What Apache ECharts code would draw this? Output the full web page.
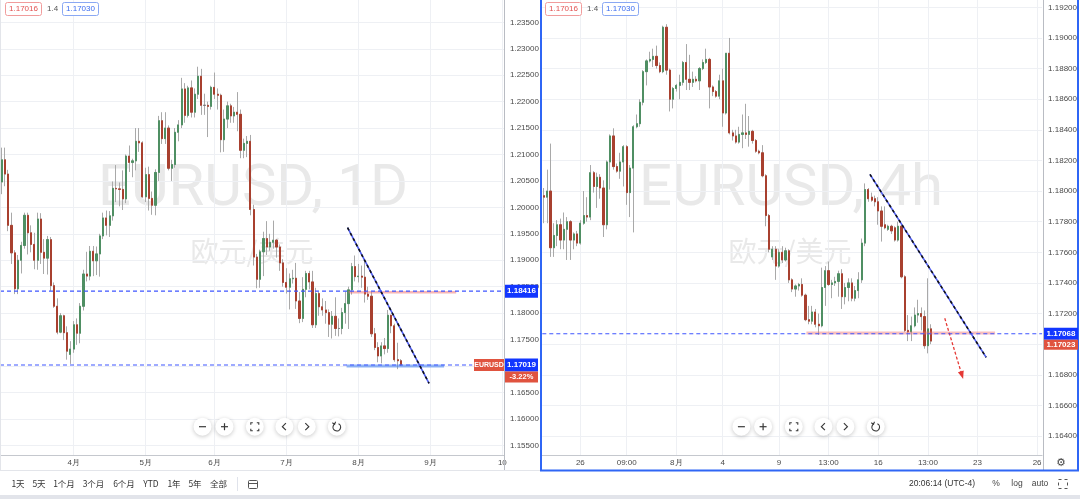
<!DOCTYPE html>
<html><head><meta charset="utf-8">
<script src="https://cdn.jsdelivr.net/npm/echarts@6/dist/echarts.min.js"></script>
<style>html,body{margin:0;padding:0;background:#fff}#c{width:1080px;height:499px}</style>
</head><body><div id="c"></div>
<script>
// ---------------- DATA ----------------
// Daily EURUSD, one row per trading day from 2021-03-02: [open, high, low, close]
const dailyStart = '2021-03-02', dailyEnd = '2021-10-01';
const dailyOHLC = [
[1.2048,1.2113,1.2025,1.2090],[1.2090,1.2113,1.2040,1.2063],[1.2063,1.2071,1.1955,1.1966],[1.1966,1.1990,1.1893,1.1914],
[1.1914,1.1919,1.1836,1.1846],[1.1846,1.1910,1.1836,1.1900],[1.1900,1.1935,1.1875,1.1928],[1.1928,1.1990,1.1922,1.1985],
[1.1985,1.1990,1.1911,1.1952],[1.1952,1.1966,1.1915,1.1930],[1.1930,1.1952,1.1883,1.1900],[1.1900,1.1990,1.1882,1.1978],
[1.1978,1.1989,1.1893,1.1915],[1.1915,1.1940,1.1874,1.1904],[1.1904,1.1946,1.1873,1.1939],[1.1939,1.1944,1.1842,1.1852],
[1.1852,1.1858,1.1810,1.1813],[1.1813,1.1828,1.1760,1.1764],[1.1764,1.1800,1.1762,1.1795],[1.1795,1.1797,1.1749,1.1763],
[1.1763,1.1775,1.1712,1.1728],[1.1722,1.1747,1.1704,1.1732],
[1.1732,1.1785,1.1725,1.1778],[1.1778,1.1790,1.1740,1.1762],[1.1762,1.1819,1.1743,1.1813],[1.1813,1.1882,1.1805,1.1874],
[1.1874,1.1916,1.1860,1.1870],[1.1870,1.1927,1.1862,1.1917],[1.1917,1.1927,1.1870,1.1899],[1.1899,1.1926,1.1872,1.1912],
[1.1912,1.1950,1.1869,1.1946],[1.1946,1.1990,1.1940,1.1980],[1.1980,1.1994,1.1947,1.1966],[1.1966,1.1993,1.1944,1.1984],
[1.1984,1.2049,1.1975,1.2036],[1.2036,1.2080,1.2010,1.2035],[1.2035,1.2047,1.2002,1.2034],[1.2034,1.2070,1.1995,1.2016],
[1.2016,1.2100,1.2008,1.2097],[1.2097,1.2117,1.2067,1.2085],[1.2085,1.2092,1.2057,1.2088],[1.2088,1.2150,1.2070,1.2125],
[1.2125,1.2150,1.2105,1.2122],[1.2122,1.2125,1.2018,1.2020],
[1.2020,1.2075,1.2010,1.2062],[1.2062,1.2077,1.1994,1.2017],[1.2017,1.2030,1.1986,1.2004],[1.2004,1.2072,1.1985,1.2066],
[1.2066,1.2173,1.2050,1.2164],[1.2164,1.2180,1.2120,1.2130],[1.2130,1.2180,1.2120,1.2150],[1.2150,1.2155,1.2070,1.2074],
[1.2074,1.2090,1.2050,1.2081],[1.2081,1.2150,1.2075,1.2142],[1.2142,1.2165,1.2125,1.2156],[1.2156,1.2245,1.2150,1.2224],
[1.2224,1.2235,1.2160,1.2174],[1.2174,1.2230,1.2170,1.2226],[1.2226,1.2240,1.2170,1.2180],[1.2180,1.2225,1.2170,1.2214],
[1.2214,1.2266,1.2205,1.2248],[1.2248,1.2262,1.2175,1.2193],[1.2193,1.2215,1.2175,1.2193],[1.2193,1.2200,1.2133,1.2191],
[1.2191,1.2230,1.2185,1.2227],
[1.2227,1.2255,1.2205,1.2214],[1.2214,1.2225,1.2185,1.2212],[1.2212,1.2215,1.2104,1.2128],[1.2128,1.2185,1.2105,1.2167],
[1.2167,1.2200,1.2150,1.2192],[1.2192,1.2196,1.2160,1.2173],[1.2173,1.2190,1.2160,1.2180],[1.2180,1.2218,1.2144,1.2176],
[1.2176,1.2185,1.2093,1.2108],[1.2108,1.2130,1.2093,1.2121],[1.2121,1.2135,1.2095,1.2125],[1.2125,1.2137,1.1985,1.1996],
[1.1996,1.2005,1.1890,1.1906],[1.1906,1.1912,1.1847,1.1864],[1.1864,1.1920,1.1848,1.1916],[1.1916,1.1954,1.1870,1.1941],
[1.1941,1.1974,1.1910,1.1925],[1.1925,1.1950,1.1918,1.1934],[1.1934,1.1975,1.1922,1.1938],[1.1938,1.1940,1.1905,1.1925],
[1.1925,1.1930,1.1880,1.1895],[1.1895,1.1902,1.1850,1.1858],
[1.1858,1.1885,1.1837,1.1849],[1.1849,1.1875,1.1807,1.1865],[1.1865,1.1882,1.1856,1.1866],[1.1866,1.1895,1.1808,1.1823],
[1.1823,1.1840,1.1781,1.1790],[1.1790,1.1868,1.1783,1.1845],[1.1845,1.1880,1.1830,1.1875],[1.1875,1.1880,1.1845,1.1859],
[1.1859,1.1880,1.1772,1.1778],[1.1778,1.1848,1.1772,1.1837],[1.1837,1.1840,1.1795,1.1812],[1.1812,1.1828,1.1795,1.1806],
[1.1806,1.1823,1.1780,1.1801],[1.1801,1.1807,1.1755,1.1779],[1.1779,1.1804,1.1752,1.1794],[1.1794,1.1830,1.1757,1.1771],
[1.1771,1.1790,1.1756,1.1771],[1.1771,1.1810,1.1760,1.1801],[1.1801,1.1841,1.1780,1.1818],[1.1818,1.1850,1.1770,1.1844],
[1.1844,1.1895,1.1835,1.1888],[1.1888,1.1909,1.1860,1.1869],
[1.1869,1.1893,1.1858,1.1870],[1.1870,1.1890,1.1848,1.1868],[1.1868,1.1900,1.1820,1.1836],[1.1836,1.1850,1.1825,1.1832],
[1.1832,1.1840,1.1755,1.1761],[1.1761,1.1772,1.1730,1.1735],[1.1735,1.1745,1.1707,1.1719],[1.1719,1.1745,1.1705,1.1738],
[1.1738,1.1753,1.1722,1.1733],[1.1733,1.1806,1.1725,1.1796],[1.1796,1.1797,1.1762,1.1776],[1.1776,1.1780,1.1708,1.1712],
[1.1712,1.1744,1.1694,1.1710],[1.1710,1.1713,1.1700,1.1702]
];
const dailyMonthTicks = {'2021-04-01':'4月','2021-05-03':'5月','2021-06-01':'6月','2021-07-01':'7月','2021-08-02':'8月','2021-09-01':'9月','2021-10-01':'10'};

// 4h EURUSD (UTC-4), bars from 2021-07-22 05:00: [open, high, low, close]
const h4Start = '2021-07-22T05', h4End = '2021-08-26T05';
const h4OHLC = [
[1.1797,1.1802,1.1779,1.1796],[1.1796,1.1814,1.1779,1.1800],[1.1800,1.1831,1.1757,1.1763],[1.1763,1.1779,1.1757,1.1771],
[1.1771,1.1781,1.1764,1.1778],[1.1778,1.1782,1.1762,1.1768],[1.1768,1.1786,1.1762,1.1775],[1.1775,1.1783,1.1755,1.1780],
[1.1780,1.1781,1.1755,1.1768],[1.1768,1.1773,1.1762,1.1772],[1.1772,1.1774,1.1764,1.1766],[1.1766,1.1781,1.1765,1.1779],
[1.1779,1.1800,1.1778,1.1784],[1.1784,1.1796,1.1780,1.1783],[1.1783,1.1817,1.1781,1.1812],[1.1812,1.1813,1.1799,1.1803],
[1.1803,1.1812,1.1789,1.1809],[1.1809,1.1811,1.1795,1.1802],[1.1802,1.1807,1.1770,1.1778],[1.1778,1.1820,1.1775,1.1819],
[1.1819,1.1837,1.1801,1.1836],[1.1836,1.1841,1.1814,1.1816],[1.1816,1.1818,1.1812,1.1813],[1.1813,1.1825,1.1808,1.1819],
[1.1819,1.1830,1.1803,1.1829],[1.1829,1.1830,1.1791,1.1799],[1.1799,1.1817,1.1783,1.1815],[1.1815,1.1843,1.1773,1.1842],
[1.1842,1.1850,1.1841,1.1844],[1.1844,1.1860,1.1842,1.1858],[1.1858,1.1879,1.1856,1.1878],[1.1878,1.1886,1.1869,1.1885],
[1.1885,1.1891,1.1884,1.1886],[1.1886,1.1893,1.1881,1.1888],[1.1888,1.1895,1.1880,1.1882],[1.1882,1.1884,1.1877,1.1878],
[1.1878,1.1908,1.1877,1.1907],[1.1907,1.1909,1.1876,1.1879],[1.1879,1.1880,1.1852,1.1860],[1.1860,1.1868,1.1854,1.1867],
[1.1867,1.1870,1.1865,1.1869],[1.1869,1.1876,1.1860,1.1871],[1.1871,1.1885,1.1869,1.1884],[1.1884,1.1896,1.1866,1.1873],
[1.1873,1.1889,1.1866,1.1871],[1.1871,1.1878,1.1868,1.1873],[1.1873,1.1875,1.1871,1.1872],[1.1872,1.1881,1.1866,1.1880],
[1.1880,1.1886,1.1879,1.1884],[1.1884,1.1893,1.1883,1.1886],[1.1886,1.1887,1.1854,1.1868],[1.1868,1.1869,1.1862,1.1865],
[1.1865,1.1866,1.1861,1.1862],[1.1862,1.1876,1.1860,1.1872],[1.1872,1.1880,1.1842,1.1851],[1.1851,1.1890,1.1850,1.1890],
[1.1890,1.1900,1.1837,1.1838],[1.1838,1.1840,1.1833,1.1836],[1.1836,1.1840,1.1831,1.1832],[1.1832,1.1842,1.1831,1.1837],
[1.1837,1.1850,1.1828,1.1838],[1.1838,1.1857,1.1834,1.1837],[1.1837,1.1849,1.1829,1.1839],[1.1839,1.1840,1.1831,1.1833],
[1.1833,1.1834,1.1825,1.1826],[1.1826,1.1827,1.1824,1.1825],[1.1825,1.1830,1.1809,1.1810],[1.1810,1.1811,1.1777,1.1784],
[1.1784,1.1785,1.1760,1.1762],[1.1757,1.1764,1.1755,1.1762],[1.1762,1.1764,1.1742,1.1751],[1.1751,1.1762,1.1750,1.1760],
[1.1760,1.1764,1.1753,1.1755],[1.1755,1.1763,1.1754,1.1761],[1.1761,1.1762,1.1740,1.1742],[1.1742,1.1743,1.1734,1.1736],
[1.1736,1.1739,1.1731,1.1738],[1.1738,1.1740,1.1735,1.1739],[1.1739,1.1743,1.1731,1.1732],[1.1732,1.1733,1.1715,1.1716],
[1.1716,1.1725,1.1713,1.1715],[1.1715,1.1725,1.1713,1.1721],[1.1721,1.1723,1.1711,1.1713],[1.1713,1.1720,1.1706,1.1712],
[1.1712,1.1750,1.1711,1.1737],[1.1737,1.1751,1.1725,1.1748],[1.1748,1.1754,1.1738,1.1739],[1.1739,1.1742,1.1730,1.1740],
[1.1740,1.1744,1.1738,1.1741],[1.1741,1.1748,1.1731,1.1746],[1.1746,1.1749,1.1723,1.1731],[1.1731,1.1740,1.1726,1.1737],
[1.1737,1.1743,1.1728,1.1740],[1.1740,1.1743,1.1728,1.1730],[1.1730,1.1738,1.1728,1.1735],[1.1735,1.1747,1.1730,1.1742],
[1.1742,1.1769,1.1740,1.1766],[1.1766,1.1805,1.1764,1.1801],[1.1801,1.1802,1.1793,1.1795],[1.1796,1.1799,1.1793,1.1794],
[1.1795,1.1797,1.1790,1.1793],[1.1793,1.1796,1.1778,1.1787],[1.1787,1.1790,1.1767,1.1777],[1.1778,1.1790,1.1775,1.1776],
[1.1775,1.1778,1.1774,1.1777],[1.1777,1.1778,1.1772,1.1774],[1.1776,1.1777,1.1767,1.1768],[1.1768,1.1780,1.1767,1.1777],
[1.1777,1.1778,1.1743,1.1744],[1.1744,1.1745,1.1708,1.1709],[1.1709,1.1719,1.1702,1.1708],[1.1708,1.1718,1.1702,1.1712],
[1.1712,1.1724,1.1711,1.1719],[1.1719,1.1729,1.1714,1.1720],[1.1720,1.1724,1.1709,1.1718],[1.1718,1.1722,1.1697,1.1699],
[1.1699,1.1743,1.1694,1.1710],[1.1710,1.1713,1.1700,1.1702]
];
const h4Ticks = {'07-26 01:00':'26','07-28 09:00':'09:00','08-01 21:00':'8月','08-04 05:00':'4','08-09 01:00':'9',
  '08-11 13:00':'13:00','08-16 01:00':'16','08-18 13:00':'13:00','08-23 01:00':'23','08-26 01:00':'26'};

// price axes
const leftYRange = [1.15317, 1.23922];
const leftYTicks = [1.235,1.230,1.225,1.220,1.215,1.210,1.205,1.200,1.195,1.190,1.185,1.180,1.175,1.165,1.160,1.155];
const leftYGrid  = [1.235,1.230,1.225,1.220,1.215,1.210,1.205,1.200,1.195,1.190,1.185,1.180,1.175,1.170,1.165,1.160,1.155];
const rightYRange = [1.16276, 1.19248];
const rightYTicks = [1.192,1.190,1.188,1.186,1.184,1.182,1.180,1.178,1.176,1.174,1.172,1.168,1.166,1.164];
const rightYGrid  = [1.192,1.190,1.188,1.186,1.184,1.182,1.180,1.178,1.176,1.174,1.172,1.170,1.168,1.166,1.164];

// drawings (x in bar index, y in price)
const leftLevels = [1.18416, 1.17019];
const rightLevel = 1.17068;
const lastPrice4h = 1.17023;
const lastPriceD = 1.17019;
const trendLeft  = [[105.7,1.19616],[130.6,1.16673]];
const trendRight = [[98.5,1.18109],[133.6,1.16914]];
const pinkLeft   = [[106,1.18395],[138.9,1.18395]];
const blueSegLeft= [[105.4,1.16998],[135.2,1.16998]];
const pinkRight  = [[79.3,1.17073],[136.3,1.17073]];
const arrowRight = [[121.1,1.17169],[126.3,1.16798]];

// ---------------- helpers ----------------
function pad(n){return (n<10?'0':'')+n;}
function weekdayDates(s,e){const out=[];let t=Date.parse(s+'T00:00:00Z');const end=Date.parse(e+'T00:00:00Z');
  while(t<=end){const d=new Date(t);const w=d.getUTCDay();if(w!==0&&w!==6)out.push(d.toISOString().slice(0,10));t+=86400000;}return out;}
function h4Bars(s,e){const out=[];let t=Date.parse(s+':00:00Z');const end=Date.parse(e+':00:00Z');
  while(t<=end){const d=new Date(t);const w=d.getUTCDay(),h=d.getUTCHours();
    if(!(w===6||(w===5&&h>=17)||(w===0&&h<17))) out.push(pad(d.getUTCMonth()+1)+'-'+pad(d.getUTCDate())+' '+pad(h)+':00');
    t+=4*3600000;}return out;}
const dailyDates = weekdayDates(dailyStart, dailyEnd);
const h4Cats = h4Bars(h4Start, h4End);
const wickData = a => a.map(r=>[r[0],r[3],r[2],r[1]]);
const bodyData = a => a.map(r=>[r[0],r[3],Math.min(r[0],r[3]),Math.max(r[0],r[3])]);
const dMonthSlots = dailyDates.map((d,i)=>dailyMonthTicks[d]?i:-1).filter(i=>i>=0);
const h4TickSlots = h4Cats.map((d,i)=>h4Ticks[d]?i:-1).filter(i=>i>=0);

const UP='#4f8f63', DN='#a8402f', WICK='#a9a9a9', GRIDC='#eef0f4', LEVEL='#3f56ff';
const FONT='"Liberation Sans", Arial, sans-serif';

function gridHelper(xi, yi, yGrid, xSlots){
  return {type:'line', xAxisIndex:xi, yAxisIndex:yi, data:[], silent:true, symbol:'none',
    markLine:{silent:true, z:1, precision:6, symbol:['none','none'], animation:false, label:{show:false},
      lineStyle:{color:GRIDC, width:1, type:'solid'},
      data: yGrid.map(v=>({yAxis:v})).concat(xSlots.map(s=>({xAxis:s})))}};
}
function candles(xi, yi, arr){
  return [
    {type:'candlestick', xAxisIndex:xi, yAxisIndex:yi, data:wickData(arr), barWidth:1.7, z:3, silent:true,
      itemStyle:{color:'rgba(0,0,0,0)', color0:'rgba(0,0,0,0)', borderColor:WICK, borderColor0:WICK, borderColorDoji:WICK, borderWidth:1}},
    {type:'candlestick', xAxisIndex:xi, yAxisIndex:yi, data:bodyData(arr), barWidth:1.7, z:4, silent:true,
      itemStyle:{color:UP, color0:DN, borderColor:UP, borderColor0:DN, borderColorDoji:'#777', borderWidth:1}}
  ];
}
function seg(xi, yi, data, color, width, type, z){
  return {type:'line', xAxisIndex:xi, yAxisIndex:yi, data:data, symbol:'none', silent:true, z:z||5,
    lineStyle:{color:color, width:width, type:type||'solid'}};
}
// full-width level line from x = -0.5 to the last slot edge
const levelSeg = (xi, yi, n, v, xEnd) => seg(xi, yi, [[-0.5, v],[xEnd===undefined ? n-0.5 : xEnd, v]], LEVEL, 1.2, [4,3], 9);

const chart = echarts.init(document.getElementById('c'));
const option = {
  animation:false,
  textStyle:{fontFamily:FONT},
  grid:[{left:-2, top:0, width:506, height:455}, {left:542.3, top:0, width:500.9, height:455}],
  xAxis:[
    {type:'category', gridIndex:0, data:dailyDates, boundaryGap:true,
      axisLine:{show:true, lineStyle:{color:'#c5c8ce'}}, axisTick:{show:false}, splitLine:{show:false},
      axisLabel:{interval:(i,v)=>!!dailyMonthTicks[v], formatter:v=>dailyMonthTicks[v]||'', fontSize:8, color:'#4a4a4a', margin:4}},
    {type:'value', gridIndex:0, min:-0.5, max:dailyDates.length-0.5, show:false},
    {type:'category', gridIndex:1, data:h4Cats, boundaryGap:true,
      axisLine:{show:true, lineStyle:{color:'#c5c8ce'}}, axisTick:{show:false}, splitLine:{show:false},
      axisLabel:{interval:(i,v)=>!!h4Ticks[v], formatter:v=>h4Ticks[v]||'', fontSize:8, color:'#4a4a4a', margin:4}},
    {type:'value', gridIndex:1, min:-0.5, max:h4Cats.length-0.5, show:false}
  ],
  yAxis:[
    {type:'value', gridIndex:0, position:'right', min:leftYRange[0], max:leftYRange[1], splitLine:{show:false},
      axisLine:{show:false}, axisTick:{show:true, customValues:leftYTicks, length:3, lineStyle:{color:'#888'}},
      axisLabel:{customValues:leftYTicks, formatter:v=>v.toFixed(5), fontSize:8, color:'#4a4a4a', margin:6}},
    {type:'value', gridIndex:1, position:'right', min:rightYRange[0], max:rightYRange[1], splitLine:{show:false},
      axisLine:{show:false}, axisTick:{show:true, customValues:rightYTicks, length:3, lineStyle:{color:'#888'}},
      axisLabel:{customValues:rightYTicks, formatter:v=>v.toFixed(5), fontSize:8, color:'#4a4a4a', margin:6}}
  ],
  series:[].concat(
    [gridHelper(1,0,leftYGrid,dMonthSlots)],
    candles(0,0,dailyOHLC),
    [seg(1,0,pinkLeft,'rgba(240,110,110,0.5)',2.5),
     seg(1,0,blueSegLeft,'rgba(70,130,240,0.6)',3),
     levelSeg(1,0,dailyDates.length,leftLevels[0]),
     levelSeg(1,0,dailyDates.length,leftLevels[1],143.8),
     seg(1,0,trendLeft,'#4d5cf0',1.6,'solid',7),
     seg(1,0,trendLeft,'#111111',1.6,[3,3],8)],
    [gridHelper(3,1,rightYGrid,h4TickSlots)],
    candles(2,1,h4OHLC),
    [seg(3,1,pinkRight,'rgba(240,110,110,0.45)',3),
     levelSeg(3,1,h4Cats.length,rightLevel),
     seg(3,1,trendRight,'#4d5cf0',1.6,'solid',7),
     seg(3,1,trendRight,'#111111',1.6,[3,3],8),
     {type:'line', xAxisIndex:3, yAxisIndex:1, data:[], silent:true, symbol:'none',
       markLine:{silent:true, z:8, precision:6, animation:false, symbol:['none','triangle'], symbolSize:[6,8], label:{show:false},
         lineStyle:{color:'#e53935', width:1.3, type:[3,2]},
         data:[[{coord:arrowRight[0]},{coord:arrowRight[1]}]]}}]
  )
};
chart.setOption(option);

// ---------------- overlays ----------------
const G = [];
function rect(x,y,w,h,fill,stroke,r,z){G.push({type:'rect', z:z||20, silent:true, shape:{x,y,width:w,height:h,r:r||0},
  style:{fill:fill||'none', stroke:stroke||null, lineWidth:1}});}
function txt(x,y,t,size,fill,align,opts){G.push({type:'text', z:(opts&&opts.z)||21, silent:true, x, y,
  style:{text:t, font:(opts&&opts.weight||'normal')+' '+size+'px '+((opts&&opts.family)||FONT), fill, align:align||'left', verticalAlign:'middle'}});}
function line(x1,y1,x2,y2,color,w,z){G.push({type:'line', z:z||20, silent:true, shape:{x1,y1,x2,y2}, style:{stroke:color, lineWidth:w||1}});}

// watermarks
G.push({type:'text', z:0, silent:true, x:253, y:190, style:{text:'EURUSD, 1D', font:'normal 58px Roboto, sans-serif', fill:'#e9e9e9', align:'center', verticalAlign:'middle'}});
G.push({type:'text', z:0, silent:true, x:252, y:251, style:{text:'欧元/美元', font:'normal 28px "Noto Sans CJK SC", sans-serif', fill:'#e9e9e9', align:'center', verticalAlign:'middle'}});
G.push({type:'text', z:0, silent:true, x:791, y:190, style:{text:'EURUSD, 4h', font:'normal 58px Roboto, sans-serif', fill:'#e9e9e9', align:'center', verticalAlign:'middle'}});
G.push({type:'text', z:0, silent:true, x:790, y:251, style:{text:'欧元/美元', font:'normal 28px "Noto Sans CJK SC", sans-serif', fill:'#e9e9e9', align:'center', verticalAlign:'middle'}});

// panel frames
line(0.5,0,0.5,470,'#e3e5ea',1);
line(504.5,0,504.5,471,'#b9bcc3',1);
line(0,470.5,540,470.5,'#e3e5ea',1);
line(1043.5,0,1043.5,470,'#b9bcc3',1);
G.push({type:'rect', z:30, silent:true, shape:{x:541,y:-1,width:537,height:471.5}, style:{fill:'none', stroke:'#2f66f5', lineWidth:2}});

// top-left quote boxes
function quotes(x0){
  rect(x0+0.5,2.5,36,13,'#fff','#f19c9c',2);
  txt(x0+18.5,9,'1.17016',8,'#e25050','center');
  txt(x0+42,9,'1.4',8,'#555','left');
  rect(x0+57.5,2.5,36,13,'#fff','#8aa8f3',2);
  txt(x0+75.5,9,'1.17030',8,'#3b6cf0','center');
}
quotes(5); quotes(545);

// price boxes on axes (positioned from the price scale)
const BLUE='#1236ff', RED='#e0533f';
const yL1 = chart.convertToPixel({yAxisIndex:0}, leftLevels[0]);
const yLP = chart.convertToPixel({yAxisIndex:0}, lastPriceD);
const yR1 = chart.convertToPixel({yAxisIndex:1}, rightLevel);
const B={weight:'bold', z:37};
rect(505,yL1-6.5,33,13,BLUE,null,0,36); txt(521.5,yL1,leftLevels[0].toFixed(5),8,'#fff','center',B);
rect(474,yLP-6,30,12,RED,null,0,36); txt(489,yLP,'EURUSD',7,'#fff','center',B);
rect(505,yLP-6.5,33,13,BLUE,null,0,36); txt(521.5,yLP,lastPriceD.toFixed(5),8,'#fff','center',B);
rect(505,yLP+6.5,33,11,RED,null,0,36); txt(521.5,yLP+12,'-3.22%',7.5,'#fff','center',B);
rect(1044,yR1-6,34,12,BLUE,null,0,36); txt(1061,yR1,rightLevel.toFixed(5),8,'#fff','center',B);
rect(1044,yR1+6,34,10,RED,null,0,36); txt(1061,yR1+11,lastPrice4h.toFixed(5),8,'#fff','center',B);

// navigation buttons
function button(cx,cy,kind){
  G.push({type:'circle', z:25, silent:true, shape:{cx,cy,r:9}, style:{fill:'#fff', shadowBlur:4, shadowColor:'rgba(0,0,0,0.22)', shadowOffsetY:1}});
  const S='#3a3a3a', z=26;
  if(kind==='minus'){line(cx-3.5,cy,cx+3.5,cy,S,1.2,z);}
  if(kind==='plus'){line(cx-3.5,cy,cx+3.5,cy,S,1.2,z);line(cx,cy-3.5,cx,cy+3.5,S,1.2,z);}
  if(kind==='full'){const d=4,l=2;[[-1,-1],[1,-1],[-1,1],[1,1]].forEach(([sx,sy])=>{
      G.push({type:'polyline', z, silent:true, shape:{points:[[cx+sx*d,cy+sy*(d-l)],[cx+sx*d,cy+sy*d],[cx+sx*(d-l),cy+sy*d]]}, style:{stroke:S,lineWidth:1.1,fill:'none'}});});}
  if(kind==='left'){G.push({type:'polyline', z, silent:true, shape:{points:[[cx+1.5,cy-3.5],[cx-2,cy],[cx+1.5,cy+3.5]]}, style:{stroke:S,lineWidth:1.2,fill:'none'}});}
  if(kind==='right'){G.push({type:'polyline', z, silent:true, shape:{points:[[cx-1.5,cy-3.5],[cx+2,cy],[cx-1.5,cy+3.5]]}, style:{stroke:S,lineWidth:1.2,fill:'none'}});}
  if(kind==='reset'){G.push({type:'arc', z, silent:true, shape:{cx,cy:cy+0.5,r:3.8,startAngle:-Math.PI*0.35,endAngle:Math.PI*1.35}, style:{stroke:S,lineWidth:1.2,fill:'none'}});
    G.push({type:'polyline', z, silent:true, shape:{points:[[cx-4.5,cy-4],[cx-2.2,cy-2.6],[cx-1.2,cy-5]]}, style:{stroke:S,lineWidth:1.1,fill:'none'}});}
}
const kinds=['minus','plus','full','left','right','reset'];
[202.5,224.5,254.8,284.4,306.8,336.8].forEach((x,i)=>button(x,426.7,kinds[i]));
[741.4,763.1,793.8,823.4,845.4,875.7].forEach((x,i)=>button(x,426.7,kinds[i]));

// bottom toolbar
rect(0,495,1080,4,'#e2e4ea',null,0,20);
const CJK='"Noto Sans CJK SC", sans-serif';
[['1天',18],['5天',39],['1个月',64],['3个月',93.5],['6个月',124],['YTD',151],['1年',174],['5年',195],['全部',218.5]]
  .forEach(([t,x])=>txt(x,484,t,8.5,'#333','center',{family:CJK}));
line(237.5,477,237.5,491,'#e0e3eb',1);
rect(248.5,480.5,9,8,'none','#555',1); line(248.5,483.5,257.5,483.5,'#555',1);
txt(909,484,'20:06:14 (UTC-4)',8.5,'#333','left');
txt(996,484,'%',8.5,'#444','center');
txt(1017,484,'log',8.5,'#444','center');
txt(1040,484,'auto',8.5,'#444','center');
G.push({type:'rect', z:20, silent:true, shape:{x:1058.5,y:479.5,width:9,height:9}, style:{fill:'none',stroke:'#555',lineWidth:1,lineDash:[3,3]}});
txt(1061,463,'⚙',11,'#444','center',{family:'"DejaVu Sans", sans-serif'});

chart.setOption({graphic:G});
</script></body></html>
